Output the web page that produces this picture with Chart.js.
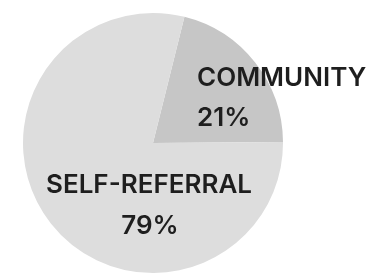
<!DOCTYPE html>
<html>
<head>
<meta charset="utf-8">
<script src="https://cdn.jsdelivr.net/npm/chart.js@4"></script>
<style>
  html, body { margin: 0; padding: 0; background: #fff; }
  #wrap { width: 384px; height: 274px; }
</style>
</head>
<body>
<div id="wrap"><canvas id="referralChart" width="384" height="274"></canvas></div>
<script>
const labels = ["COMMUNITY", "SELF-REFERRAL"];
const values = [21, 79];
const colors = ["#c6c6c6", "#dddddd"];

// draws the category name + percent inside each slice
const sliceLabels = {
    id: "sliceLabels",
    afterDatasetsDraw(chart) {
        const ctx = chart.ctx;
        const arcs = chart.getDatasetMeta(0).data;
        const cx = arcs[0].x, cy = arcs[0].y;
        ctx.save();
        ctx.fillStyle = "#1e1e1e";
        ctx.font = "600 26px Inter";
        ctx.textBaseline = "alphabetic";

        ctx.textAlign = "left";
        ctx.fillText(labels[0], cx + 44, cy - 57);
        ctx.fillText(values[0] + "%", cx + 44, cy - 17);

        ctx.textAlign = "center";
        ctx.fillText(labels[1], cx - 4, cy + 50);
        ctx.fillText(values[1] + "%", cx - 3, cy + 91);
        ctx.restore();
    }
};

new Chart(document.getElementById("referralChart"), {
    type: "pie",
    data: {
        labels: labels,
        datasets: [{
            data: values,
            backgroundColor: colors,
            borderWidth: 0
        }]
    },
    options: {
        responsive: false,
        animation: false,
        rotation: 14,
        layout: { padding: { left: 23, right: 101, top: 13, bottom: 1 } },
        plugins: {
            legend: { display: false },
            tooltip: { enabled: false }
        }
    },
    plugins: [sliceLabels]
});
</script>
</body>
</html>
